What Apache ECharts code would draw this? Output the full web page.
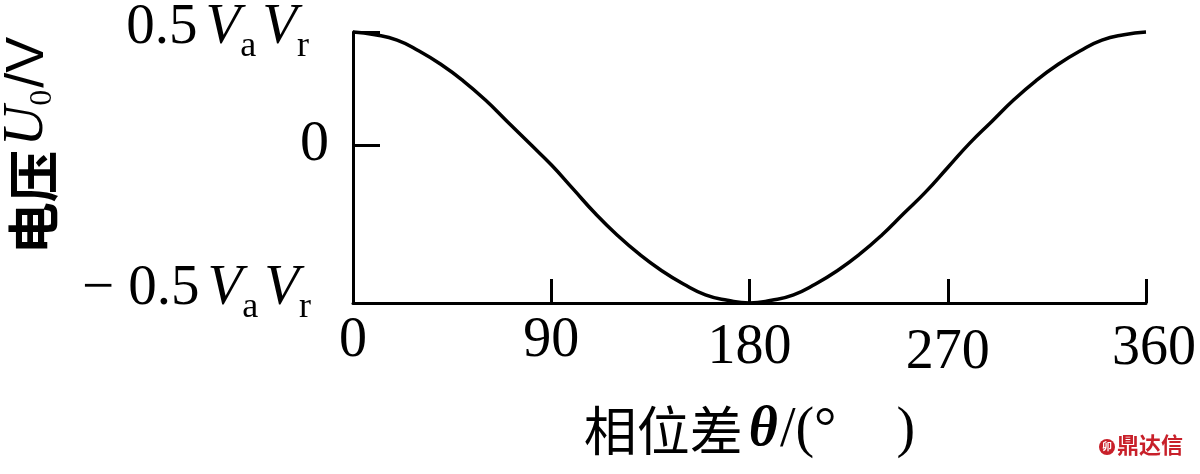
<!DOCTYPE html>
<html><head><meta charset="utf-8">
<script src="https://cdn.jsdelivr.net/npm/echarts@6/dist/echarts.min.js"></script>
<style>html,body{margin:0;padding:0;background:#fff}#c{width:1200px;height:474px}</style>
</head><body><div id="c"></div>
<script>
// phase difference (deg) and output voltage (in units of VaVr)
const thetaDeg = [0,10,20,30,40,50,60,70,80,90,100,110,120,130,140,150,160,170,180,190,200,210,220,230,240,250,260,270,280,290,300,310,320,330,340,350,360];
const voltage  = [0.50,0.49,0.47,0.43,0.38,0.32,0.25,0.17,0.09,0.01,-0.08,-0.17,-0.25,-0.32,-0.38,-0.43,-0.47,-0.49,-0.50,-0.49,-0.47,-0.43,-0.38,-0.32,-0.25,-0.17,-0.09,0.00,0.09,0.17,0.25,0.32,0.38,0.43,0.47,0.49,0.50];
const xTickValues = [0,90,180,270,360];
const xTickLabels = ['0','90','180','270','360'];
const yTickValues = [-0.5, 0.083, 0.5];
const yTickLabels = ['−0.5VaVr','0','0.5VaVr'];

const serif = 'Liberation Serif';
const chart = echarts.init(document.getElementById('c'));

function yLabel(v){
  const i = yTickValues.indexOf(v);
  if (i < 0) return '';
  const t = yTickLabels[i];
  if (t === '0') return '{z|0}';
  if (t.startsWith('−')) return '{mm|−}{nm|0.5}{vm|V}{sm|a}{v2m|V}{srm|r}';
  return '{n|0.5}{v|V}{s|a}{v2|V}{sr|r}';
}
const mainBase = {fontFamily: serif, fontSize: 57, color:'#000', verticalAlign:'bottom'};
const subBase = {fontFamily: serif, fontSize: 36, color:'#000', verticalAlign:'bottom'};
const shiftUp = 20;
function xLabel(v){
  const i = xTickValues.indexOf(v);
  const key = ['a','a','b','c','d'][i];
  return '{' + key + '|' + xTickLabels[i] + '}';
}
const xl = {fontFamily: serif, fontSize: 56, color:'#000'};

chart.setOption({
  animation: false,
  backgroundColor: '#fff',
  grid: {left: 353, right: 54, top: 32, bottom: 171, containLabel: false, outerBoundsMode: 'none'},
  xAxis: {
    type: 'value', min: 0, max: 360, interval: 90,
    axisLine: {show: true, onZero: false, lineStyle: {color:'#000', width: 3}},
    axisTick: {show: true, inside: true, length: 24, lineStyle: {color:'#000', width: 3}},
    splitLine: {show: false},
    axisLabel: {
      margin: 10,
      formatter: xLabel,
      rich: {
        a: Object.assign({}, xl),
        b: Object.assign({}, xl, {padding: [7,0,0,0]}),
        c: Object.assign({}, xl, {padding: [12,0,0,0]}),
        d: Object.assign({}, xl, {padding: [8,0,0,16]})
      }
    },
    name: '{c|相位差}{t|θ}{p|/(°}{q|)}',
    nameLocation: 'middle',
    nameGap: 100,
    nameTextStyle: {
      rich: {
        c: {fontFamily:'Noto Sans CJK SC', fontSize: 53, color:'#000'},
        t: {fontFamily: serif, fontStyle:'italic', fontWeight:'bold', fontSize: 56, color:'#000', padding:[0,2,0,6]},
        p: {fontFamily: serif, fontSize: 56, color:'#000'},
        q: {fontFamily: serif, fontSize: 56, color:'#000', padding:[0,0,0,60]}
      }
    }
  },
  yAxis: {
    type: 'value', min: -0.5, max: 0.5,
    axisLine: {show: true, onZero: false, lineStyle: {color:'#000', width: 3}},
    axisTick: {show: true, inside: true, length: 27, customValues: yTickValues, lineStyle: {color:'#000', width: 3}},
    splitLine: {show: false},
    axisLabel: {
      margin: 24,
      customValues: yTickValues,
      formatter: yLabel,
      rich: {
        z: {fontFamily: serif, fontSize: 58, color:'#000'},
        n: Object.assign({}, mainBase, {padding:[0,0,8,0]}),
        v: Object.assign({}, mainBase, {fontStyle:'italic', padding:[0,0,8,8]}),
        s: Object.assign({}, subBase),
        v2: Object.assign({}, mainBase, {fontStyle:'italic', padding:[0,0,8,6]}),
        sr: Object.assign({}, subBase, {padding:[0,20,0,0]}),
        mm: Object.assign({}, mainBase, {padding:[0,14,8+shiftUp,0]}),
        nm: Object.assign({}, mainBase, {padding:[0,0,8+shiftUp,0]}),
        vm: Object.assign({}, mainBase, {fontStyle:'italic', padding:[0,0,8+shiftUp,8]}),
        sm: Object.assign({}, subBase, {padding:[0,0,shiftUp,0]}),
        v2m: Object.assign({}, mainBase, {fontStyle:'italic', padding:[0,0,8+shiftUp,6]}),
        srm: Object.assign({}, subBase, {padding:[0,18,shiftUp,0]})
      }
    },
    name: '{c|电压}{u|U}{s|0}{v|/V}',
    nameLocation: 'middle',
    nameRotate: 90,
    nameGap: 294,
    nameTextStyle: {
      padding: [0,0,0,44],
      rich: {
        c: {fontFamily:'Noto Sans CJK SC', fontWeight:'bold', fontSize: 52, color:'#000', verticalAlign:'bottom'},
        u: {fontFamily: serif, fontStyle:'italic', fontSize: 56, color:'#000', verticalAlign:'bottom', padding:[0,0,4,4]},
        s: {fontFamily: serif, fontSize: 32, color:'#000', verticalAlign:'bottom'},
        v: {fontFamily: 'Liberation Sans', fontSize: 54, color:'#000', verticalAlign:'bottom', padding:[0,0,4,2]}
      }
    }
  },
  series: [{
    type: 'line',
    data: thetaDeg.map((t, i) => [t, voltage[i]]),
    smooth: true,
    symbol: 'none',
    clip: false,
    lineStyle: {color:'#000', width: 3.5}
  }],
  graphic: [
    {type:'circle', shape:{cx:1107, cy:447, r:8}, style:{fill:'#c8202a'}},
    {type:'text', left: 1102, top: 441, style:{text:'卯', fill:'#fff', font:'bold 10px "Noto Sans CJK SC"'}},
    {type:'text', left: 1117, top: 434, style:{text:'鼎达信', fill:'#c8202a', font:'bold 22px "Noto Sans CJK SC"'}}
  ]
});
</script>
</body></html>
